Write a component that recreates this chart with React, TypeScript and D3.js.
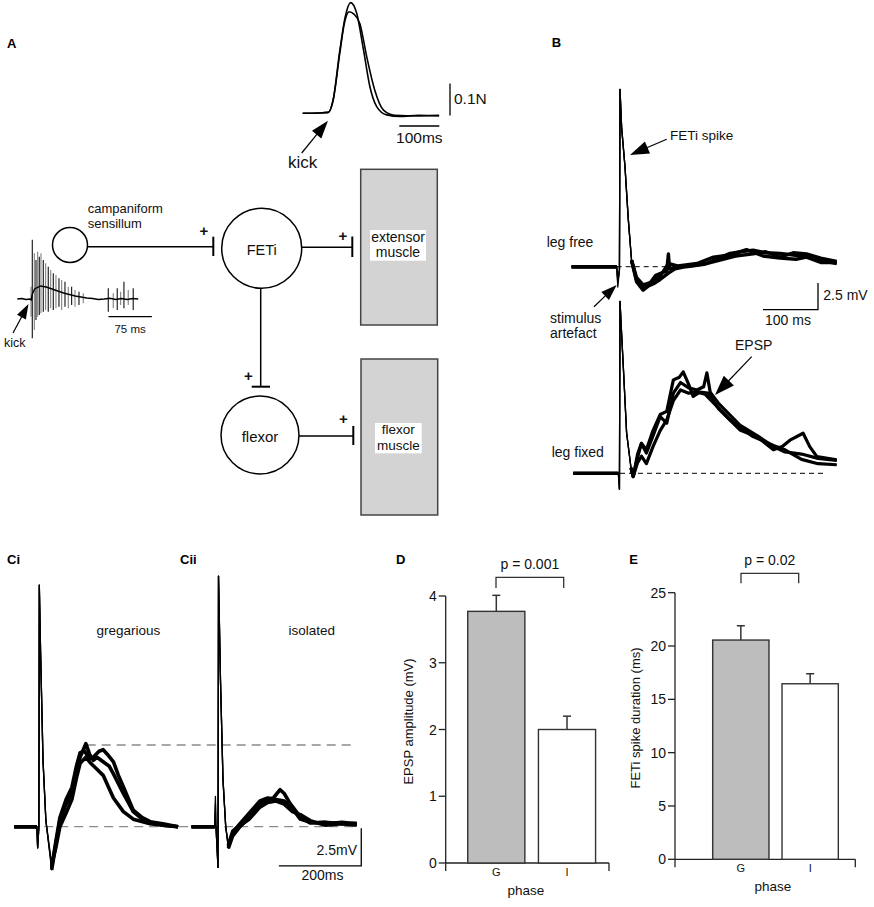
import React from "react";
import * as d3 from "d3";

const FONT = "'Liberation Sans', Arial, Helvetica, sans-serif";

// ---------- Panel A: kick force traces (t ms, force N)
const forceTrace1: [number, number][] = [
  [0, 0], [40, 0.001], [64, 0.003], [76, 0.042], [93, 0.198], [106, 0.3], [120, 0.346], [135, 0.3125],
  [152, 0.198], [168, 0.083], [185, 0.021], [210, -0.005], [243, -0.01], [290, -0.006], [341, -0.008],
];
const forceTrace2: [number, number][] = [
  [0, 0], [40, 0.001], [64, 0.003], [76, 0.04], [93, 0.19], [104, 0.28], [116, 0.3175], [128, 0.31], [143, 0.28],
  [160, 0.177], [180, 0.073], [202, 0.01], [230, -0.006], [290, -0.008], [341, -0.006],
];

// ---------- Panel A: campaniform sensillum recording (t ms, amplitude a.u.)
const kickBase: [number, number][] = [
  [0, 0], [8, 0.5], [15, -0.5], [22, 0], [24, -1], [26, 5], [30, 10], [40, 13], [50, 12], [60, 10], [70, 8],
  [80, 6], [90, 4.5], [100, 3], [110, 2], [120, 1], [130, 0.5], [140, -0.5], [150, 0], [160, 0.8], [170, -0.5],
  [180, 0.5], [190, -0.5], [200, 0.5], [209, 0],
];
const kickSpikes: [number, number, number][] = [
  [23.7, 12.3, -17.7], [25.9, 59.3, -39.3], [29.4, 45.7, -31], [32.3, 39, -21], [35.2, 47.3, -17.7],
  [38.0, 42.3, -16], [40.9, 45.7, -14.3], [44.9, 39, -12.7], [49.0, 35.7, -11], [53.5, 32.3, -12.7],
  [57.7, 29, -9.3], [62.2, 25.7, -11], [66.8, 24, -9.3], [72.0, 20.7, -7.7], [76.7, 19, -11],
  [82.4, 17.3, -7.7], [88.1, 12.3, -9.3], [93.9, 12.3, -6], [99.7, 9, -7.7], [106.6, 7.3, -6], [114.0, 5.7, -4.3],
  [157.2, 10.7, -12.7], [165.8, 5.7, -9.3], [172.7, 10.7, -11], [178.6, 7.3, -6], [184.3, 17.3, -9.3],
  [191.7, 9, -6], [200.3, 10.7, -11],
];

// ---------- Panel B: FETi recordings (t ms, mV)
const legFree1: [number, number][] = [
  [-88, 0], [-6, 0], [-4, -1.9], [-1, -0.3], [0, 16.6], [3, 13], [9, 9.4], [15, 4.5], [21, 0.6], [30, -1.2],
  [42, -2.0], [50, -1.7], [61, -1.25], [73, -0.9], [88, 0.3], [109, 0], [130, 0.1], [157, 0.3], [180, 0.8],
  [200, 1.25], [220, 1.4], [242, 1.55], [265, 1.3], [291, 1.25], [315, 1.1], [339, 0.94], [365, 0.6], [394, 0.3],
];
const legFree2: [number, number][] = [
  [-88, 0], [-6, 0], [-4, -1.5], [-1, -0.3], [0, 16.6], [3, 13], [9, 9.4], [15, 4.5], [21, 0.6], [30, -1.4],
  [42, -2.2], [52, -1.8], [61, -1.6], [73, -1.2], [88, -0.6], [100, -0.2], [120, 0], [150, 0.2], [180, 0.6],
  [210, 1.0], [242, 1.2], [265, 1.4], [291, 0.9], [315, 1.3], [339, 1.2], [365, 0.8], [394, 0.5],
];
const legFree3: [number, number][] = [
  [-88, 0], [-6, 0], [-4, -1.2], [-1, -0.3], [0, 16.6], [3, 13], [9, 9.4], [15, 4.5], [21, 0.6], [30, -1.0],
  [42, -1.7], [55, -1.5], [65, -0.8], [75, -0.6], [85, -0.4], [88, 1.2], [90, -0.2], [109, 0.1], [140, 0.3],
  [170, 0.9], [200, 1.1], [230, 1.6], [260, 1.0], [291, 0.8], [320, 0.7], [339, 0.9], [365, 0.4], [394, 0.4],
];
const legFixed1: [number, number][] = [
  [-85, 0], [-3, 0], [-1, -1.5], [0, 16.1], [2, 14], [6, 10], [12, 3.8], [20, 0.5], [24, -0.3], [32, 1.5],
  [39, 2.8], [48, 1.9], [60, 3.5], [73, 5.3], [85, 4.7], [97, 7.5], [110, 8.5], [125, 8.0], [140, 7.8],
  [152, 8.1], [158, 9.4], [164, 7.6], [180, 6.5], [218, 4.5], [250, 3.5], [279, 2.5], [300, 2.0], [330, 1.8],
  [360, 1.4], [394, 1.2],
];
const legFixed2: [number, number][] = [
  [-85, 0], [-3, 0], [-1, -1.5], [0, 16.1], [2, 14], [6, 10], [12, 3.8], [20, 0.5], [24, -0.3], [32, 1.8],
  [39, 2.8], [48, 2.2], [60, 4.0], [73, 5.5], [85, 5.8], [97, 8.75], [108, 9.0], [115, 9.5], [125, 8.3],
  [133, 7.2], [145, 7.6], [160, 7.5], [180, 6.0], [218, 4.06], [250, 3.4], [279, 2.2], [295, 2.5], [309, 3.1],
  [333, 3.75], [345, 2.5], [358, 1.56], [394, 1.25],
];
const legFixed3: [number, number][] = [
  [-85, 0], [-3, 0], [-1, -1.5], [0, 16.1], [2, 14], [6, 10], [12, 3.8], [20, 0.5], [24, -0.3], [32, 1.0],
  [39, 1.6], [48, 0.9], [60, 2.5], [73, 4.0], [85, 5.0], [97, 6.8], [110, 7.8], [125, 7.5], [140, 7.6],
  [155, 7.4], [170, 6.6], [200, 5.0], [240, 3.5], [279, 2.6], [300, 2.2], [330, 1.3], [360, 0.9], [394, 0.8],
];

// ---------- Panel C: gregarious / isolated (t ms, mV)
const greg1: [number, number][] = [
  [-61, 0], [-6, 0], [-4, -1.4], [-1, 0], [0, 16.0], [3, 11.7], [9, 4.4], [16, 0.4], [30, -2.86], [40, -1.2],
  [50, 0.44], [65, 1.5], [79, 2.2], [90, 3.6], [99, 4.6], [113, 5.5], [122, 4.8], [131, 4.4], [140, 4.6],
  [155, 4.3], [170, 4.0], [180, 3.5], [204, 2.2], [228, 1.0], [250, 0.5], [269, 0.3], [300, 0.1], [337, 0],
];
const greg2: [number, number][] = [
  [-61, 0], [-6, 0], [-4, -1.4], [-1, 0], [0, 16.0], [3, 11.7], [9, 4.4], [16, 0.4], [30, -2.7], [40, -1.0],
  [50, 0.6], [65, 1.8], [79, 2.6], [90, 4.0], [99, 4.9], [110, 5.0], [122, 4.5], [131, 4.6], [145, 5.0],
  [155, 5.1], [165, 4.8], [180, 4.3], [192, 3.4], [204, 2.65], [228, 1.1], [250, 0.6], [269, 0.33], [300, 0.2], [337, 0],
];
const greg3: [number, number][] = [
  [-61, 0], [-6, 0], [-4, -1.4], [-1, 0], [0, 16.0], [3, 11.7], [9, 4.4], [16, 0.4], [30, -2.5], [40, -1.4],
  [50, 0], [65, 0.9], [79, 1.8], [90, 3.2], [99, 4.2], [113, 4.6], [125, 4.2], [140, 3.8], [155, 3.4],
  [170, 2.5], [180, 1.9], [204, 1.0], [228, 0.5], [269, 0.2], [300, 0.1], [337, 0],
];
const iso1: [number, number][] = [
  [-65, 0], [-9, 0], [-7, 2.0], [-5.6, 0], [-0.7, -2.7], [0.5, 16.6], [5.3, 9.7], [11.4, 3.1], [18, 0],
  [24.3, -1.43], [35, -0.6], [52.7, 0], [75, 0.6], [101, 1.55], [120, 1.8], [133.5, 1.9], [150, 2.45],
  [160, 2.2], [174, 1.55], [199, 0.66], [223, 0.25], [260, 0.3], [300, 0.2], [336, 0.22],
];
const iso2: [number, number][] = [
  [-65, 0], [-9, 0], [-7, 1.5], [-5.6, 0], [-0.7, -2.7], [0.5, 16.6], [5.3, 9.7], [11.4, 3.1], [18, 0],
  [24.3, -1.3], [35, -0.4], [52.7, 0.2], [75, 0.9], [101, 1.7], [120, 1.9], [140, 1.8], [160, 1.7],
  [180, 1.2], [199, 0.5], [223, 0.3], [260, 0.2], [300, 0.3], [336, 0.2],
];
const iso3: [number, number][] = [
  [-65, 0], [-9, 0], [-5.6, 0], [-0.7, -2.7], [0.5, 16.6], [5.3, 9.7], [11.4, 3.1], [18, 0], [24.3, -1.2],
  [35, -0.3], [52.7, 0.1], [75, 0.5], [101, 1.3], [120, 1.6], [140, 1.7], [160, 1.5], [180, 1.0], [199, 0.8],
  [223, 0.4], [260, 0.1], [300, 0.2], [336, 0.1],
];
const gregPeak = 5.41; // upper dashed reference level (mV)

// ---------- Panels D & E
const phaseCats = ["G", "I"];
const epspMean = [3.77, 2.0];
const epspSem = [0.24, 0.2];
const epspTicks = [0, 1, 2, 3, 4];
const durMean = [20.56, 16.46];
const durSem = [1.34, 0.94];
const durTicks = [0, 5, 10, 15, 20, 25];
const barFills = ["#bdbdbd", "#ffffff"];

type Pt = [number, number];

function Trace({ data, x, y, gap, thin = 1.3, thick = 3.2, color = "#000" }: any) {
  const all = d3.line<Pt>().x((d) => x(d[0])).y((d) => y(d[1]));
  const noisy = d3
    .line<Pt>()
    .defined((d) => d[0] <= gap[0] || d[0] >= gap[1])
    .x((d) => x(d[0]))
    .y((d) => y(d[1]));
  return (
    <g fill="none" stroke={color} strokeLinejoin="round">
      <path d={all(data) || ""} strokeWidth={thin} />
      <path d={noisy(data) || ""} strokeWidth={thick} />
    </g>
  );
}

function Arrow({ x1, y1, x2, y2, len, w, sw = 1.2 }: any) {
  const dx = x2 - x1, dy = y2 - y1;
  const L = Math.hypot(dx, dy);
  const ux = dx / L, uy = dy / L;
  const bx = x2 - ux * len, by = y2 - uy * len;
  const nx = -uy, ny = ux;
  const pts = `${x2},${y2} ${bx + (nx * w) / 2},${by + (ny * w) / 2} ${bx - (nx * w) / 2},${by - (ny * w) / 2}`;
  return (
    <g>
      <line x1={x1} y1={y1} x2={bx + ux * 2} y2={by + uy * 2} stroke="#000" strokeWidth={sw} />
      <polygon points={pts} fill="#000" />
    </g>
  );
}

function BarPanel({ means, sems, ticks, yDomain, yRange, axisX, xRange, bandRange, pi, po, ylabel, ylabelX, bracket, ptext, phaseX }: any) {
  const y = d3.scaleLinear().domain(yDomain).range(yRange);
  const xb = d3.scaleBand<string>().domain(phaseCats).range(bandRange).paddingInner(pi).paddingOuter(po);
  const y0 = y(0);
  const yTop = y(yDomain[1]);
  const bw = xb.bandwidth();
  const cx = (c: string) => (xb(c) as number) + bw / 2;
  return (
    <g fontFamily={FONT}>
      <line x1={axisX} y1={yTop} x2={axisX} y2={y0 + 8} stroke="#222" strokeWidth={1.3} />
      <line x1={axisX} y1={y0} x2={xRange[1]} y2={y0} stroke="#222" strokeWidth={1.3} />
      <line x1={xRange[1]} y1={y0} x2={xRange[1]} y2={y0 + 8} stroke="#222" strokeWidth={1.3} />
      {ticks.map((t: number) => (
        <g key={t}>
          <line x1={axisX - 7} x2={axisX} y1={y(t)} y2={y(t)} stroke="#222" strokeWidth={1.3} />
          <text x={axisX - 9} y={y(t) + 5} textAnchor="end" fontSize={14} fill="#111">{t}</text>
        </g>
      ))}
      {phaseCats.map((c, i) => (
        <g key={c}>
          <line x1={cx(c)} x2={cx(c)} y1={y(means[i])} y2={y(means[i] + sems[i])} stroke="#333" strokeWidth={1.5} />
          <line x1={cx(c) - 4} x2={cx(c) + 4} y1={y(means[i] + sems[i])} y2={y(means[i] + sems[i])} stroke="#333" strokeWidth={1.5} />
          <rect x={xb(c)} y={y(means[i])} width={bw} height={y0 - y(means[i])} fill={barFills[i]} stroke="#333" strokeWidth={1.4} />
          <text x={cx(c)} y={y0 + 13} textAnchor="middle" fontSize={11} fill="#111">{c}</text>
        </g>
      ))}
      <text x={phaseX} y={y0 + 32} textAnchor="middle" fontSize={13.5} fill="#111">phase</text>
      <text transform={`translate(${ylabelX},${(yTop + y0) / 2 - 8}) rotate(-90)`} textAnchor="middle" fontSize={13} fill="#111">{ylabel}</text>
      <path d={`M${bracket[0]},${bracket[3]} V${bracket[2]} H${bracket[1]} V${bracket[3]}`} fill="none" stroke="#333" strokeWidth={1.3} />
      <text x={(bracket[0] + bracket[1]) / 2} y={bracket[2] - 8} textAnchor="middle" fontSize={14} fill="#111">{ptext}</text>
    </g>
  );
}

export default function App() {
  const xF = d3.scaleLinear().domain([0, 100]).range([302.7, 342.7]);
  const yF = d3.scaleLinear().domain([0, 0.1]).range([113.3, 81.3]);
  const forceLine = d3.line<Pt>().x((d) => xF(d[0])).y((d) => yF(d[1])).curve(d3.curveMonotoneX);
  const xK = d3.scaleLinear().domain([0, 75]).range([17.3, 60.7]);
  const yK = d3.scaleLinear().domain([0, 10]).range([299, 289]);
  const kickLine = d3.line<Pt>().x((d) => xK(d[0])).y((d) => yK(d[1]));
  const xB = d3.scaleLinear().domain([0, 100]).range([620, 675]);
  const yBfree = d3.scaleLinear().domain([0, 2.5]).range([266.7, 240]);
  const yBfix = d3.scaleLinear().domain([0, 2.5]).range([473.3, 446.6]);
  const xCi = d3.scaleLinear().domain([0, 200]).range([39.3, 121.7]);
  const xCii = d3.scaleLinear().domain([0, 200]).range([218.3, 300.7]);
  const yC = d3.scaleLinear().domain([0, 2.5]).range([826.7, 788.95]);

  const txt = { fontFamily: FONT, fill: "#111" } as any;
  const bold = { fontFamily: FONT, fontWeight: 700, fontSize: 13, fill: "#000" } as any;

  return (
    <svg width={874} height={907} style={{ position: "absolute", left: 0, top: 0, background: "#fff" }}>
      <rect width={874} height={907} fill="#fff" />
      {/* ===== Panel A ===== */}
      <text x={7} y={48} {...bold}>A</text>
      <path d={forceLine(forceTrace2) || ""} fill="none" stroke="#000" strokeWidth={1.6} />
      <path d={forceLine(forceTrace1) || ""} fill="none" stroke="#000" strokeWidth={1.6} />
      <line x1={xF(241.5)} x2={xF(341.5)} y1={126} y2={126} stroke="#000" strokeWidth={1.3} />
      <text x={xF(291.5)} y={143} textAnchor="middle" fontSize={15.5} {...txt}>100ms</text>
      <line x1={450} x2={450} y1={yF(0.093)} y2={yF(-0.007)} stroke="#000" strokeWidth={1.3} />
      <text x={454} y={104} fontSize={15.5} {...txt}>0.1N</text>
      <Arrow x1={301.7} y1={153} x2={328} y2={120.7} len={18} w={12} />
      <text x={288} y={168} fontSize={17} {...txt}>kick</text>

      {kickSpikes.map((s, i) => (
        <line key={i} x1={xK(s[0])} x2={xK(s[0])} y1={yK(s[1])} y2={yK(s[2])} stroke={i % 2 === 0 ? "#808080" : "#111"} strokeWidth={1.1} />
      ))}
      <path d={kickLine(kickBase) || ""} fill="none" stroke="#000" strokeWidth={1.4} />
      <line x1={xK(157.5)} x2={xK(232.5)} y1={316.7} y2={316.7} stroke="#000" strokeWidth={1.3} />
      <text x={xK(195)} y={333} textAnchor="middle" fontSize={11.5} {...txt}>75 ms</text>
      <Arrow x1={13} y1={333} x2={28.5} y2={304} len={15} w={10} />
      <text x={4} y={347} fontSize={12.5} {...txt}>kick</text>

      <g stroke="#000" strokeWidth={1.5} fill="none">
        <circle cx={70} cy={245} r={17.5} />
        <line x1={87.5} y1={246.7} x2={213.3} y2={246.7} />
        <line x1={213.3} y1={236.7} x2={213.3} y2={256} strokeWidth={2} />
        <circle cx={261.7} cy={248.3} r={40} />
        <line x1={301.7} y1={247.3} x2={352.3} y2={247.3} />
        <line x1={352.3} y1={236.5} x2={352.3} y2={257} strokeWidth={2} />
        <line x1={260.7} y1={288.3} x2={260.7} y2={386.7} />
        <line x1={251.7} y1={386.7} x2={270} y2={386.7} strokeWidth={2} />
        <circle cx={260} cy={435} r={39} />
        <line x1={299} y1={436} x2={353.3} y2={436} />
        <line x1={353.3} y1={426} x2={353.3} y2={445} strokeWidth={2} />
      </g>
      <rect x={360.7} y={169.3} width={76.6} height={155.7} fill="#d3d3d3" stroke="#444" strokeWidth={1.5} />
      <rect x={361} y={359} width={76.7} height={156} fill="#d3d3d3" stroke="#444" strokeWidth={1.5} />
      <rect x={370} y={230} width={56} height={30.7} fill="#fff" />
      <rect x={375} y={423} width={46.7} height={30.3} fill="#fff" />
      <g fontFamily={FONT} fill="#111" textAnchor="middle">
        <text x={398} y={242} fontSize={14}>extensor</text>
        <text x={398} y={257} fontSize={14}>muscle</text>
        <text x={398.3} y={434} fontSize={13.5}>flexor</text>
        <text x={398.3} y={449.5} fontSize={13.5}>muscle</text>
        <text x={261.7} y={254.5} fontSize={14.5}>FETi</text>
        <text x={260} y={442} fontSize={15}>flexor</text>
        <text x={204} y={236} fontSize={15} fontWeight={700}>+</text>
        <text x={343} y={241} fontSize={15} fontWeight={700}>+</text>
        <text x={248.3} y={381} fontSize={15} fontWeight={700}>+</text>
        <text x={343.3} y={423.5} fontSize={15} fontWeight={700}>+</text>
      </g>
      <text x={87.7} y={212.7} fontSize={13} {...txt}>campaniform</text>
      <text x={87.7} y={227.7} fontSize={13} {...txt}>sensillum</text>

      {/* ===== Panel B ===== */}
      <text x={551.7} y={46.7} {...bold}>B</text>
      <line x1={xB(-6)} x2={xB(91)} y1={yBfree(0)} y2={yBfree(0)} stroke="#000" strokeWidth={1} strokeDasharray="5,4" />
      <line x1={xB(0)} x2={xB(370)} y1={yBfix(0)} y2={yBfix(0)} stroke="#000" strokeWidth={1} strokeDasharray="5,4" />
      {[legFree1, legFree2, legFree3].map((d, i) => (
        <Trace key={"f" + i} data={d} x={xB} y={yBfree} gap={[-5, 20]} thick={3.4} />
      ))}
      {[legFixed1, legFixed2, legFixed3].map((d, i) => (
        <Trace key={"x" + i} data={d} x={xB} y={yBfix} gap={[-2.5, 20]} thick={3.2} />
      ))}
      <path d={`M${xB(260)},${yBfree(-4.02)} H${xB(360)} V${yBfree(-1.52)}`} fill="none" stroke="#000" strokeWidth={1.3} />
      <text x={823.3} y={300} fontSize={14} {...txt}>2.5 mV</text>
      <text x={788} y={325} textAnchor="middle" fontSize={14} {...txt}>100 ms</text>
      <text x={546.7} y={246.7} fontSize={14} {...txt}>leg free</text>
      <text x={551.7} y={456.7} fontSize={14} {...txt}>leg fixed</text>
      <text x={670} y={140} fontSize={13.5} {...txt}>FETi spike</text>
      <Arrow x1={666.7} y1={139.3} x2={630} y2={155} len={19} w={13} />
      <text x={550} y={322.7} fontSize={14} {...txt}>stimulus</text>
      <text x={550} y={337.7} fontSize={14} {...txt}>artefact</text>
      <Arrow x1={594} y1={306.7} x2={616.7} y2={285} len={16} w={11} />
      <text x={735} y={350} fontSize={14} {...txt}>EPSP</text>
      <Arrow x1={751.7} y1={356.7} x2={715} y2={395} len={20} w={14} />

      {/* ===== Panel C ===== */}
      <text x={7} y={564} {...bold}>Ci</text>
      <text x={180} y={564} {...bold}>Cii</text>
      <line x1={xCi(115)} x2={xCii(328)} y1={yC(gregPeak)} y2={yC(gregPeak)} stroke="#8a8a8a" strokeWidth={1.3} strokeDasharray="9,6" />
      <line x1={xCi(-61)} x2={xCii(328)} y1={yC(0)} y2={yC(0)} stroke="#8a8a8a" strokeWidth={1.3} strokeDasharray="9,6" />
      {[greg1, greg2, greg3].map((d, i) => (
        <Trace key={"g" + i} data={d} x={xCi} y={yC} gap={[-5, 28]} thick={3.6} />
      ))}
      {[iso1, iso2, iso3].map((d, i) => (
        <Trace key={"s" + i} data={d} x={xCii} y={yC} gap={[-8.5, 22]} thick={3.6} />
      ))}
      <text x={128.3} y={635} textAnchor="middle" fontSize={13.5} {...txt}>gregarious</text>
      <text x={311.7} y={635} textAnchor="middle" fontSize={13.5} {...txt}>isolated</text>
      <path d={`M${xCii(147)},${yC(-2.6)} H${xCii(347)} V${yC(-0.1)}`} fill="none" stroke="#000" strokeWidth={1.3} />
      <text x={357} y={855} textAnchor="end" fontSize={14} {...txt}>2.5mV</text>
      <text x={322.5} y={880} textAnchor="middle" fontSize={14} {...txt}>200ms</text>

      {/* ===== Panel D ===== */}
      <text x={396} y={564} {...bold}>D</text>
      <BarPanel
        means={epspMean} sems={epspSem} ticks={epspTicks} yDomain={[0, 4]} yRange={[863, 596]}
        axisX={445.7} xRange={[445.7, 609]} bandRange={[455, 608.3]} pi={0.192} po={0.18}
        ylabel="EPSP amplitude (mV)" ylabelX={413} bracket={[496, 563.7, 577.3, 588]} ptext="p = 0.001" phaseX={526}
      />
      {/* ===== Panel E ===== */}
      <text x={629.3} y={564} {...bold}>E</text>
      <BarPanel
        means={durMean} sems={durSem} ticks={durTicks} yDomain={[0, 25]} yRange={[859.3, 592.7]}
        axisX={675} xRange={[675, 855.3]} bandRange={[700, 851]} pi={0.188} po={0.183}
        ylabel="FETi spike duration (ms)" ylabelX={640} bracket={[741, 798.7, 573.3, 583.3]} ptext="p = 0.02" phaseX={773}
      />
    </svg>
  );
}
